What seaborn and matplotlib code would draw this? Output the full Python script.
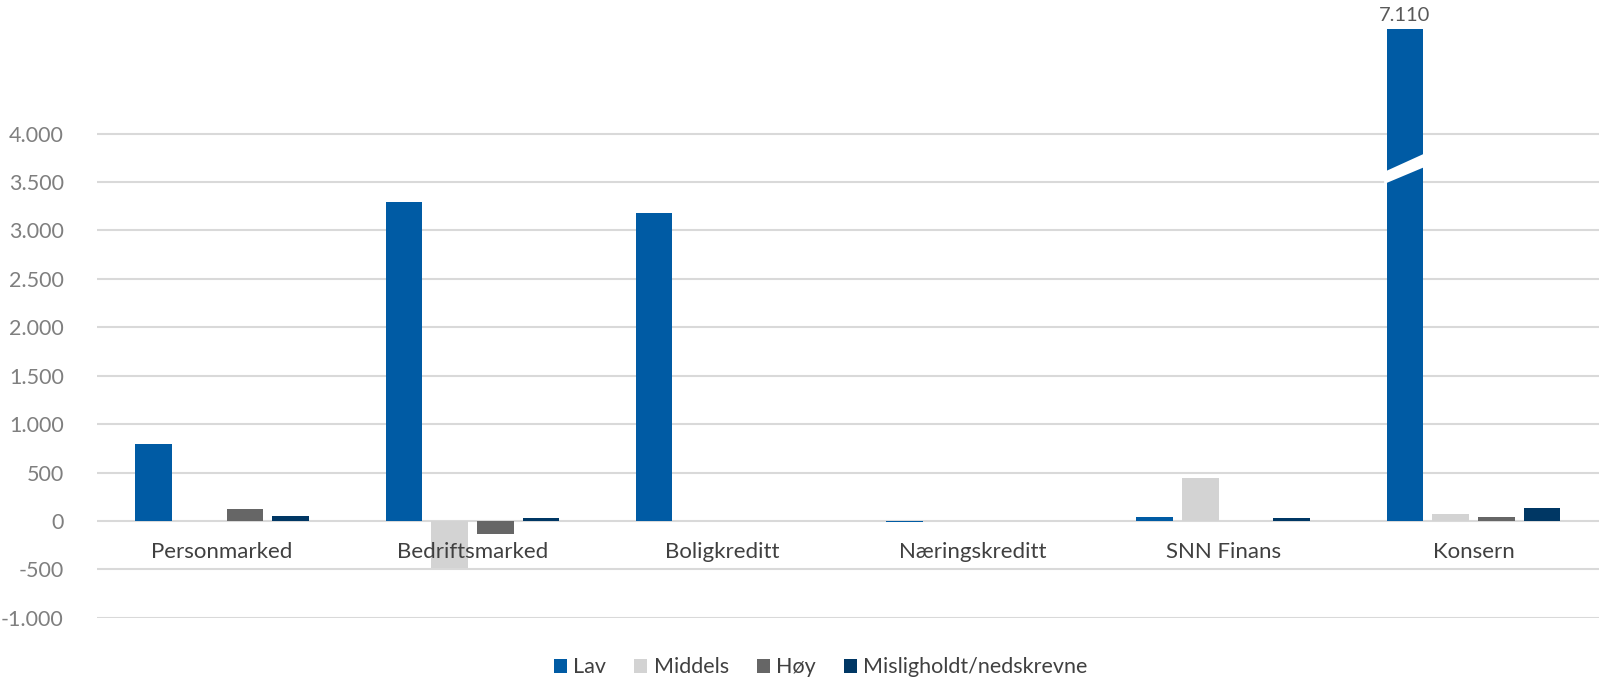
import numpy as np
import pandas as pd
import matplotlib.pyplot as plt
import seaborn as sns
from matplotlib.patches import Polygon

# Data
segments = ['Personmarked', 'Bedriftsmarked', 'Boligkreditt', 'Næringskreditt', 'SNN Finans', 'Konsern']
classes = ['Lav', 'Middels', 'Høy', 'Misligholdt/nedskrevne']
lav = [800, 3290, 3180, -8, 40, 7110]
middels = [0, -490, 0, 0, 445, 75]
hoy = [120, -130, 0, 0, 0, 45]
mislighold = [50, 35, 0, 0, 35, 135]
colors = ['#005BA4', '#D3D3D3', '#666666', '#003764']
y_ticks = list(range(-1000, 4001, 500))

# the tallest bar is drawn cut off with a break mark (as in the source)
cap = 5083

df = pd.DataFrame({
    'segment': segments * 4,
    'klasse': np.repeat(classes, len(segments)),
    'value': lav + middels + hoy + mislighold,
})
df['shown'] = df['value'].clip(upper=cap)

sns.set_style('white')
plt.rcParams['font.family'] = ['Lato', 'DejaVu Sans']

fig = plt.figure(figsize=(15.99, 6.82), dpi=100)
ax = fig.add_axes([0.0607, 0.094, 0.939, 0.906])

sns.barplot(data=df, x='segment', y='shown', hue='klasse', order=segments,
            hue_order=classes, palette=colors, width=0.73, gap=0.2,
            saturation=1, edgecolor='none', ax=ax, zorder=3)

ax.set_ylim(-1000, 5380)
ax.set_xlim(-0.5, len(segments) - 0.5)
ax.set_yticks(y_ticks)
ax.set_yticklabels([f'{v:,}'.replace(',', '.') for v in y_ticks])
ax.yaxis.grid(True, color='#D9D9D9', linewidth=1.5, zorder=0)
ax.set_axisbelow(True)
ax.xaxis.set_zorder(5)  # category names sit on top of the bars
for s in ax.spines.values():
    s.set_visible(False)
ax.spines['bottom'].set_position(('data', 0))
ax.tick_params(axis='y', length=0, labelsize=15.5, labelcolor='#7F7F7F', pad=24)
ax.tick_params(axis='x', length=0, labelsize=16, labelcolor='#404040', pad=15)
ax.set_xlabel('')
ax.set_ylabel('')

# break mark and value label on the cut bar
big = max(ax.patches, key=lambda p: p.get_height())
x0, x1 = big.get_x(), big.get_x() + big.get_width()
ax.add_patch(Polygon([(x0 - 0.01, 3480), (x0 - 0.01, 3605), (x1 + 0.01, 3800), (x1 + 0.01, 3660)],
                     closed=True, facecolor='white', edgecolor='none', zorder=4))
ax.text((x0 + x1) / 2, cap + 50, f'{max(lav):,}'.replace(',', '.'), ha='center', va='bottom',
        fontsize=14.5, color='#595959')

sns.move_legend(ax, 'center', bbox_to_anchor=(0.482, -0.08), ncol=4, frameon=False,
                title=None, fontsize=15.5, handlelength=0.6, handleheight=0.6,
                handletextpad=0.3, columnspacing=1.3)
for t in ax.get_legend().get_texts():
    t.set_color('#404040')

fig.savefig('out.png', dpi=100)
